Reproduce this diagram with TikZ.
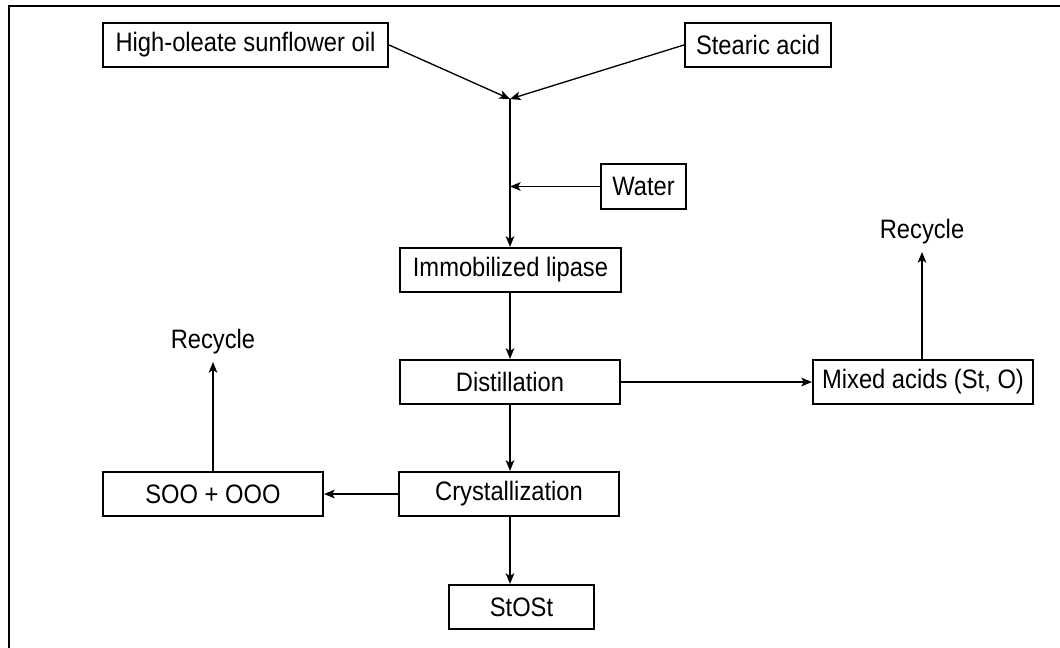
\documentclass[tikz,border=0pt]{standalone}
\usepackage{fontspec}
\setmainfont[FakeStretch=0.89]{Liberation Sans}
\usetikzlibrary{arrows.meta}
\begin{document}
\begin{tikzpicture}[x=0.75pt,y=-0.75pt,
  box/.style={draw, line width=1.6pt, inner sep=0pt, minimum height=33pt,
    font=\fontsize{20}{23}\selectfont},
  lbl/.style={inner xsep=0pt, inner ysep=6pt, font=\fontsize{20}{23}\selectfont},
  flow/.style={line width=1pt, -{Stealth[length=8pt,width=6.5pt,inset=2pt]}}]
\useasboundingbox (0,0) rectangle (1060,648);
% page frame (top and left rules)
\draw[line width=1.5pt] (1060,6.5) -- (8.5,6.5) -- (8.5,648);

% feed materials
\node[box, minimum width=213.75pt] (oil) at (245.5,45) {High-oleate sunflower oil};
\node[box, minimum width=109.5pt] (stearic) at (758,45) {Stearic acid};
\coordinate (mix) at (510,99);
\node[box, minimum width=63.75pt, minimum height=33.75pt] (water) at (643.5,186.5) {Water};

% process steps
\node[box, minimum width=165.75pt] (lipase) at (510.5,270) {Immobilized lipase};
\node[box, minimum width=165pt] (distill) at (510,382) {Distillation};
\node[box, minimum width=165pt] (mixed) at (923,382) {Mixed acids (St, O)};
\node[box, minimum width=165pt] (crys) at (509,494) {Crystallization};
\node[box, minimum width=165pt] (soo) at (213,494) {SOO + OOO};
\node[box, minimum width=108.75pt] (stost) at (521.5,607) {StOSt};

% recycle labels
\node[lbl, anchor=south] (rec1) at (922,252) {Recycle};
\node[lbl, anchor=south] (rec2) at (213,362) {Recycle};

% connectors
\draw[flow] (oil.east) -- (mix);
\draw[flow] (stearic.west) -- (mix);
\draw[flow] (mix) -- (mix |- lipase.north);
\draw[flow] (water.west) -- (water.west -| mix);
\draw[flow] (lipase.south -| distill.north) -- (distill.north);
\draw[flow] (distill.east) -- (mixed.west);
\draw[flow] (mixed.north -| rec1.south) -- (rec1.south);
\draw[flow] (distill.south) -- (distill.south |- crys.north);
\draw[flow] (crys.west) -- (soo.east);
\draw[flow] (soo.north) -- (rec2.south);
\draw[flow] (distill.south |- crys.south) -- (distill.south |- stost.north);
\end{tikzpicture}
\end{document}
